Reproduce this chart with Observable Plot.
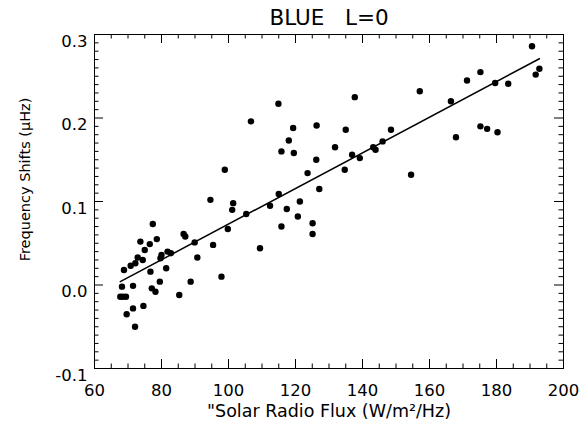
<!DOCTYPE html>
<html>
<head>
<meta charset="utf-8">
<script src="https://cdn.jsdelivr.net/npm/d3@7"></script>
<script src="https://cdn.jsdelivr.net/npm/@observablehq/plot@0.6"></script>
<style>
  html, body { margin: 0; padding: 0; background: #fff; }
  #chart svg { display: block; }
</style>
</head>
<body>
<div id="chart"></div>
<script>
// Solar radio flux (x) and frequency shift in µHz (y)
const flux = [
  77.4, 73.7, 76.5, 78.6, 75.0, 72.9, 74.4, 72.2, 70.8, 68.8,
  80.0, 79.7, 81.8, 82.8, 86.6, 87.1, 89.9, 90.7, 81.4, 76.7,
  68.2, 71.5, 79.5, 77.1, 78.2, 67.7, 68.5, 69.4, 85.3, 88.7,
  71.5, 74.6, 69.6, 72.1,
  114.9, 137.7, 106.7, 119.3, 126.3, 135.0, 148.5, 118.0, 115.8, 119.5,
  131.8, 126.2, 136.9, 139.2, 143.2, 143.9, 146.0, 123.6, 134.7, 127.1,
  98.9, 94.6, 101.4, 101.1, 105.3, 112.4, 115.0, 117.4, 121.3, 120.7,
  115.8, 125.1, 125.1, 99.8, 95.4, 109.4, 97.9,
  190.6, 192.8, 191.7, 175.2, 171.2, 179.6, 183.5, 157.1, 166.4, 175.2,
  177.2, 180.3, 167.9, 154.5
];
const shift = [
  0.073, 0.052, 0.049, 0.055, 0.042, 0.033, 0.030, 0.026, 0.023, 0.018,
  0.036, 0.032, 0.040, 0.038, 0.061, 0.058, 0.051, 0.033, 0.020, 0.016,
  -0.002, -0.001, 0.004, -0.004, -0.008, -0.014, -0.014, -0.014, -0.012, 0.004,
  -0.028, -0.025, -0.035, -0.050,
  0.217, 0.225, 0.196, 0.188, 0.191, 0.186, 0.186, 0.173, 0.160, 0.158,
  0.165, 0.150, 0.156, 0.152, 0.165, 0.162, 0.172, 0.134, 0.138, 0.115,
  0.138, 0.102, 0.098, 0.090, 0.085, 0.095, 0.109, 0.091, 0.100, 0.082,
  0.070, 0.074, 0.061, 0.067, 0.048, 0.044, 0.010,
  0.286, 0.259, 0.252, 0.255, 0.245, 0.242, 0.241, 0.232, 0.220, 0.190,
  0.187, 0.183, 0.177, 0.132
];
// Linear fit line end points
const fitFlux = [67.7, 192.8];
const fitShift = [0.004, 0.271];

// Tick values
const xMajor = [60, 80, 100, 120, 140, 160, 180, 200];
const xMinor = d3.range(60, 201, 5).filter(v => v % 20 !== 0);
const yMajor = [-0.1, 0.0, 0.1, 0.2, 0.3];
const yMinor = d3.range(-10, 31, 1).filter(v => v % 10 !== 0).map(v => v / 100);

const titleText = "BLUE\u00a0\u00a0\u00a0L=0";
const xLabel = "\"Solar Radio Flux (W/m\u00b2/Hz)";
const yLabel = "Frequency Shifts (\u03bcHz)";

const points = flux.map((f, i) => ({flux: f, shift: shift[i]}));
const fit = fitFlux.map((f, i) => ({flux: f, shift: fitShift[i]}));

const W = 585, H = 428;
const mL = 94, mR = 22, mT = 34, mB = 60;
const innerW = W - mL - mR, innerH = H - mT - mB;
const major = 9, minor = 4.5;
const font = "'DejaVu Sans', sans-serif";

const chart = Plot.plot({
  width: W,
  height: H,
  marginLeft: mL,
  marginRight: mR,
  marginTop: mT,
  marginBottom: mB,
  style: {fontFamily: font, fontSize: "16.5px", color: "#000", background: "#fff"},
  x: {domain: [60, 200]},
  y: {domain: [-0.1, 0.3]},
  marks: [
    Plot.axisX(xMajor, {anchor: "bottom", tickSize: 0, tickPadding: 16, tickFormat: d => String(d), label: null, fontSize: 16.5}),
    Plot.axisY(yMajor, {anchor: "left", tickSize: 0, tickPadding: 7, dy: 7, tickFormat: d => d.toFixed(1), label: null, fontSize: 16.5}),
    // inward ticks on all four sides
    Plot.ruleX(xMajor, {x: d => d, insetTop: innerH - major, stroke: "#000"}),
    Plot.ruleX(xMajor, {x: d => d, insetBottom: innerH - major, stroke: "#000"}),
    Plot.ruleX(xMinor, {x: d => d, insetTop: innerH - minor, stroke: "#000"}),
    Plot.ruleX(xMinor, {x: d => d, insetBottom: innerH - minor, stroke: "#000"}),
    Plot.ruleY(yMajor, {y: d => d, insetRight: innerW - major, stroke: "#000"}),
    Plot.ruleY(yMajor, {y: d => d, insetLeft: innerW - major, stroke: "#000"}),
    Plot.ruleY(yMinor, {y: d => d, insetRight: innerW - minor, stroke: "#000"}),
    Plot.ruleY(yMinor, {y: d => d, insetLeft: innerW - minor, stroke: "#000"}),
    Plot.frame({stroke: "#000", strokeWidth: 1}),
    Plot.line(fit, {x: "flux", y: "shift", stroke: "#000", strokeWidth: 1.5}),
    Plot.dot(points, {x: "flux", y: "shift", r: 3.2, fill: "#000", stroke: "none"}),
    Plot.text([titleText], {frameAnchor: "top", textAnchor: "middle", lineAnchor: "middle", dy: -16.5, fontSize: 21.5, fill: "#000"}),
    Plot.text([xLabel], {frameAnchor: "bottom", textAnchor: "middle", lineAnchor: "middle", dy: 43, fontSize: 17.5, fill: "#000"}),
    Plot.text([yLabel], {frameAnchor: "left", textAnchor: "middle", lineAnchor: "middle", dx: -69, dy: -22, rotate: -90, fontSize: 14.5, fill: "#000"})
  ]
});
document.getElementById("chart").appendChild(chart);
</script>
</body>
</html>
